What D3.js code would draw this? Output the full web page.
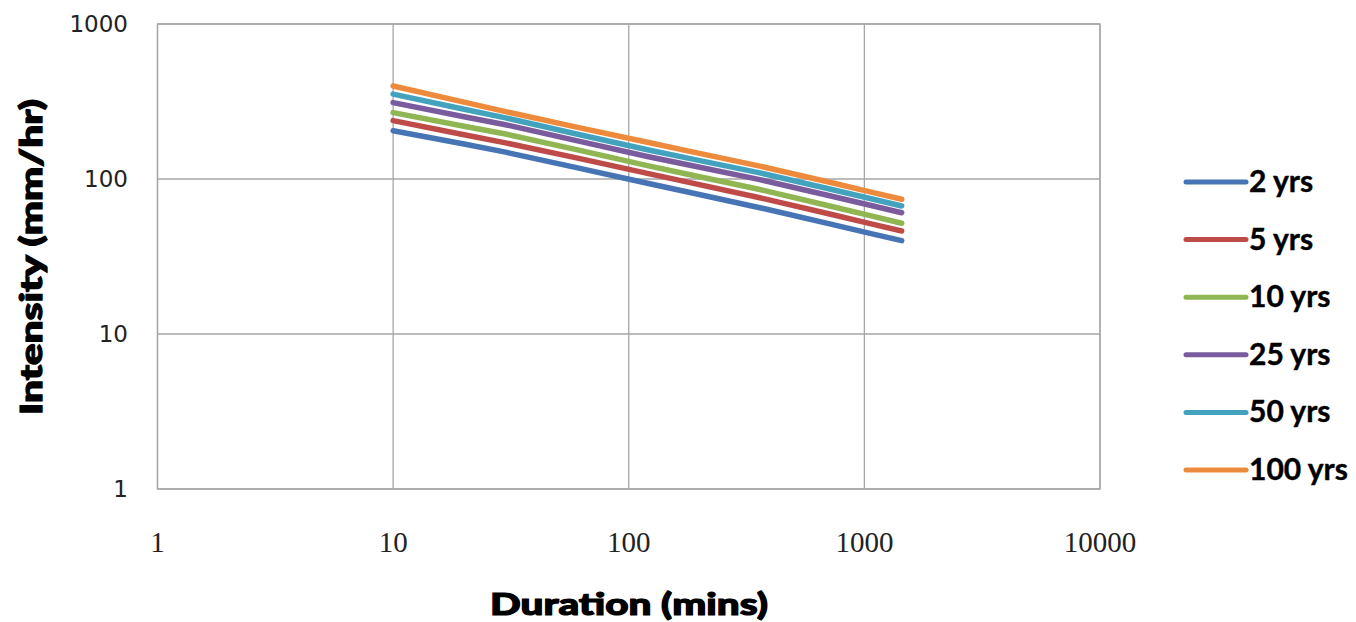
<!DOCTYPE html>
<html><head><meta charset="utf-8">
<script src="https://cdn.jsdelivr.net/npm/d3@7"></script>
<style>
html,body{margin:0;padding:0;background:#fff;}
svg{display:block;}
</style></head>
<body>
<svg id="chart" width="1356" height="622"></svg>
<script>
// Data (durations in minutes, intensities in mm/hr)
const durations = [10, 20, 30, 60, 120, 180, 360, 720, 1080, 1440];
const seriesNames = ["2 yrs", "5 yrs", "10 yrs", "25 yrs", "50 yrs", "100 yrs"];
const yrs2   = [205, 168, 149, 118.5, 93.8, 82.1, 65.3, 51.2, 44.3, 40.0];
const yrs5   = [238, 193, 171, 136.8, 108.8, 95.1, 75.7, 59.2, 51.2, 46.2];
const yrs10  = [268, 219, 195, 154.7, 121.9, 107.0, 85.6, 66.7, 57.6, 51.8];
const yrs25  = [311, 252, 224, 176.8, 139.7, 123.1, 99.1, 77.7, 67.2, 60.6];
const yrs50  = [353, 282, 248, 195.2, 154.3, 135.9, 109.5, 85.9, 74.3, 67.0];
const yrs100 = [398, 313, 272, 216, 172.6, 151.4, 121, 94.9, 82.0, 74.0];
const xTicks = [1, 10, 100, 1000, 10000];
const yTicks = [1, 10, 100, 1000];
const colors = ["#4674B5", "#BE4B48", "#8FB652", "#7A5C9E", "#43A3BF", "#EE8A3C"];

const allSeries = [yrs2, yrs5, yrs10, yrs25, yrs50, yrs100];

const svg = d3.select("#chart");
const L = 157.5, R = 1100, T = 24, B = 489;
const x = d3.scaleLog().domain([1, 10000]).range([L, R]);
const y = d3.scaleLog().domain([1, 1000]).range([B, T]);

// gridlines
const g = svg.append("g");
g.selectAll("line.v").data(xTicks).enter().append("line")
  .attr("x1", d => x(d)).attr("x2", d => x(d)).attr("y1", T).attr("y2", B)
  .attr("stroke", "#A6A6A6").attr("stroke-width", 1.3);
g.selectAll("line.h").data(yTicks).enter().append("line")
  .attr("x1", L).attr("x2", R).attr("y1", d => y(d)).attr("y2", d => y(d))
  .attr("stroke", "#A6A6A6").attr("stroke-width", 1.3);
g.append("rect").attr("x", L).attr("y", T).attr("width", R - L).attr("height", B - T)
  .attr("fill", "none").attr("stroke", "#A6A6A6").attr("stroke-width", 1.3);

// y tick labels
svg.append("g").selectAll("text").data(yTicks).enter().append("text")
  .attr("x", 128).attr("y", d => y(d) + 8)
  .attr("text-anchor", "end")
  .attr("font-family", "DejaVu Sans")
  .attr("font-size", 23).attr("fill", "#222")
  .text(d => d);

// x tick labels
svg.append("g").selectAll("text").data(xTicks).enter().append("text")
  .attr("x", d => x(d)).attr("y", 552)
  .attr("text-anchor", "middle")
  .attr("font-family", "Liberation Sans Narrow")
  .attr("font-size", 29).attr("fill", "#222")
  .text(d => d);

// lines
const line = d3.line().x(d => x(d[0])).y(d => y(d[1]));
svg.append("g").selectAll("path").data(allSeries).enter().append("path")
  .attr("d", s => line(durations.map((d, i) => [d, s[i]])))
  .attr("fill", "none")
  .attr("stroke", (s, i) => colors[i])
  .attr("stroke-width", 5.5)
  .attr("stroke-linecap", "round")
  .attr("stroke-linejoin", "round");

// axis titles
svg.append("text")
  .attr("transform", "translate(42,257) rotate(-90)")
  .attr("text-anchor", "middle")
  .attr("font-family", "Lato").attr("font-weight", 900)
  .attr("font-size", 31).attr("fill", "#000")
  .attr("stroke", "#000").attr("stroke-width", 1.2)
  .attr("textLength", 316).attr("lengthAdjust", "spacingAndGlyphs")
  .text("Intensity (mm/hr)");
svg.append("text")
  .attr("x", 629).attr("y", 615)
  .attr("text-anchor", "middle")
  .attr("font-family", "Lato").attr("font-weight", 900)
  .attr("font-size", 31).attr("fill", "#000")
  .attr("stroke", "#000").attr("stroke-width", 1.2)
  .attr("textLength", 278).attr("lengthAdjust", "spacingAndGlyphs")
  .text("Duration (mins)");

// legend
const legY = d3.scaleLinear().domain([0, seriesNames.length - 1]).range([182, 470]);
const leg = svg.append("g").selectAll("g").data(seriesNames).enter().append("g");
leg.append("line")
  .attr("x1", 1186).attr("x2", 1246)
  .attr("y1", (d, i) => legY(i)).attr("y2", (d, i) => legY(i))
  .attr("stroke", (d, i) => colors[i]).attr("stroke-width", 5)
  .attr("stroke-linecap", "round");
leg.append("text")
  .attr("x", 1249).attr("y", (d, i) => legY(i) + 10)
  .attr("font-family", "Lato").attr("font-weight", 700)
  .attr("font-size", 30).attr("fill", "#000")
  .attr("stroke", "#000").attr("stroke-width", 0.4)
  .text(d => d);
</script>
</body></html>
